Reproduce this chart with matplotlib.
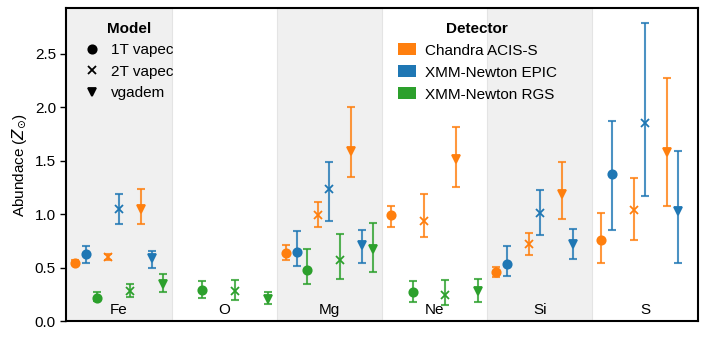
import matplotlib.pyplot as plt
import numpy as np
from matplotlib.lines import Line2D
from matplotlib.patches import Patch

plt.rcParams['font.family'] = ['Liberation Sans', 'DejaVu Sans']
plt.rcParams['mathtext.fontset'] = 'dejavusans'

elements = ['Fe', 'O', 'Mg', 'Ne', 'Si', 'S']
models = ['1T vapec', '2T vapec', 'vgadem']
detectors = ['Chandra ACIS-S', 'XMM-Newton EPIC', 'XMM-Newton RGS']

# values per detector, per model, per element (None = no measurement)
# Chandra ACIS-S
chandra_1t = [0.55, None, 0.64, 0.99, 0.46, 0.76]
chandra_1t_up = [0.02, None, 0.07, 0.09, 0.05, 0.25]
chandra_1t_lo = [0.02, None, 0.07, 0.11, 0.05, 0.21]
chandra_2t = [0.60, None, 0.99, 0.94, 0.72, 1.04]
chandra_2t_up = [0.03, None, 0.13, 0.25, 0.11, 0.30]
chandra_2t_lo = [0.03, None, 0.11, 0.15, 0.10, 0.28]
chandra_vg = [1.05, None, 1.59, 1.52, 1.19, 1.58]
chandra_vg_up = [0.19, None, 0.41, 0.30, 0.30, 0.69]
chandra_vg_lo = [0.14, None, 0.24, 0.26, 0.23, 0.50]
# XMM-Newton EPIC
epic_1t = [0.63, None, 0.65, None, 0.54, 1.38]
epic_1t_up = [0.07, None, 0.19, None, 0.16, 0.49]
epic_1t_lo = [0.08, None, 0.13, None, 0.12, 0.53]
epic_2t = [1.05, None, 1.24, None, 1.01, 1.85]
epic_2t_up = [0.14, None, 0.25, None, 0.22, 0.94]
epic_2t_lo = [0.14, None, 0.30, None, 0.20, 0.68]
epic_vg = [0.59, None, 0.71, None, 0.72, 1.03]
epic_vg_up = [0.07, None, 0.14, None, 0.14, 0.56]
epic_vg_lo = [0.09, None, 0.16, None, 0.14, 0.48]
# XMM-Newton RGS
rgs_1t = [0.22, 0.29, 0.48, 0.27, None, None]
rgs_1t_up = [0.05, 0.09, 0.20, 0.11, None, None]
rgs_1t_lo = [0.03, 0.07, 0.13, 0.09, None, None]
rgs_2t = [0.28, 0.28, 0.57, 0.25, None, None]
rgs_2t_up = [0.07, 0.11, 0.25, 0.14, None, None]
rgs_2t_lo = [0.05, 0.08, 0.17, 0.10, None, None]
rgs_vg = [0.35, 0.21, 0.68, 0.28, None, None]
rgs_vg_up = [0.09, 0.06, 0.24, 0.12, None, None]
rgs_vg_lo = [0.08, 0.05, 0.22, 0.10, None, None]

colors = {'Chandra ACIS-S': '#ff7f0e', 'XMM-Newton EPIC': '#1f77b4',
          'XMM-Newton RGS': '#2ca02c'}
markers = {'1T vapec': 'o', '2T vapec': 'x', 'vgadem': 'v'}

data = {
    ('Chandra ACIS-S', '1T vapec'): (chandra_1t, chandra_1t_lo, chandra_1t_up),
    ('Chandra ACIS-S', '2T vapec'): (chandra_2t, chandra_2t_lo, chandra_2t_up),
    ('Chandra ACIS-S', 'vgadem'): (chandra_vg, chandra_vg_lo, chandra_vg_up),
    ('XMM-Newton EPIC', '1T vapec'): (epic_1t, epic_1t_lo, epic_1t_up),
    ('XMM-Newton EPIC', '2T vapec'): (epic_2t, epic_2t_lo, epic_2t_up),
    ('XMM-Newton EPIC', 'vgadem'): (epic_vg, epic_vg_lo, epic_vg_up),
    ('XMM-Newton RGS', '1T vapec'): (rgs_1t, rgs_1t_lo, rgs_1t_up),
    ('XMM-Newton RGS', '2T vapec'): (rgs_2t, rgs_2t_lo, rgs_2t_up),
    ('XMM-Newton RGS', 'vgadem'): (rgs_vg, rgs_vg_lo, rgs_vg_up),
}

fig, ax = plt.subplots(figsize=(7.06, 3.39), dpi=100)
fig.subplots_adjust(left=0.094, right=0.988, bottom=0.052, top=0.977)

# alternating shaded bands
for i in range(len(elements)):
    if i % 2 == 0:
        ax.axvspan(i - 0.5, i + 0.5, color='#f0f0f0', zorder=0, lw=0)
    if i > 0:
        ax.axvline(i - 0.5, color='#e4e4e4', lw=0.8, zorder=0)
    ax.text(i, 0.04, elements[i], ha='center', va='bottom', fontsize=11)

step = 0.104
k = 0
for m in models:
    for d in detectors:
        off = (k - 4) * step
        k += 1
        vals, lo, up = data[(d, m)]
        xs = [i + off for i, v in enumerate(vals) if v is not None]
        ys = [v for v in vals if v is not None]
        el = [e for e in lo if e is not None]
        eu = [e for e in up if e is not None]
        ax.errorbar(xs, ys, yerr=[el, eu], fmt='none', ecolor=colors[d],
                    alpha=0.8, capsize=3, elinewidth=1.5, capthick=1.5, zorder=2)
        ax.plot(xs, ys, linestyle='none', marker=markers[m], color=colors[d],
                markersize=6, markeredgewidth=1.3, zorder=3)

ax.set_xlim(-0.5, len(elements) - 0.5)
ax.set_ylim(0, 2.93)
ax.set_xticks([])
ax.set_yticks(np.arange(0, 2.6, 0.5))
ax.tick_params(axis='y', labelsize=11, width=1, length=4)
ax.set_ylabel('Abundace ($Z_{\\odot}$)', fontsize=11)
for s in ax.spines.values():
    s.set_linewidth(1.5)

model_handles = [Line2D([], [], linestyle='none', marker=markers[m], color='black',
                        markersize=6, markeredgewidth=1.3, label=m) for m in models]
leg1 = ax.legend(handles=model_handles, title='Model', loc='upper left',
                 bbox_to_anchor=(0.006, 1.0), frameon=False, fontsize=11,
                 handlelength=1.0, handletextpad=0.8,
                 title_fontproperties={'weight': 'bold', 'size': 11})
ax.add_artist(leg1)

det_handles = [Patch(facecolor=colors[d], label=d) for d in detectors]
ax.legend(handles=det_handles, title='Detector', loc='upper left',
          bbox_to_anchor=(0.503, 1.0), frameon=False, fontsize=11,
          handlelength=1.2, handleheight=0.85, handletextpad=0.6,
          title_fontproperties={'weight': 'bold', 'size': 11})

fig.savefig('out.png', dpi=100)
